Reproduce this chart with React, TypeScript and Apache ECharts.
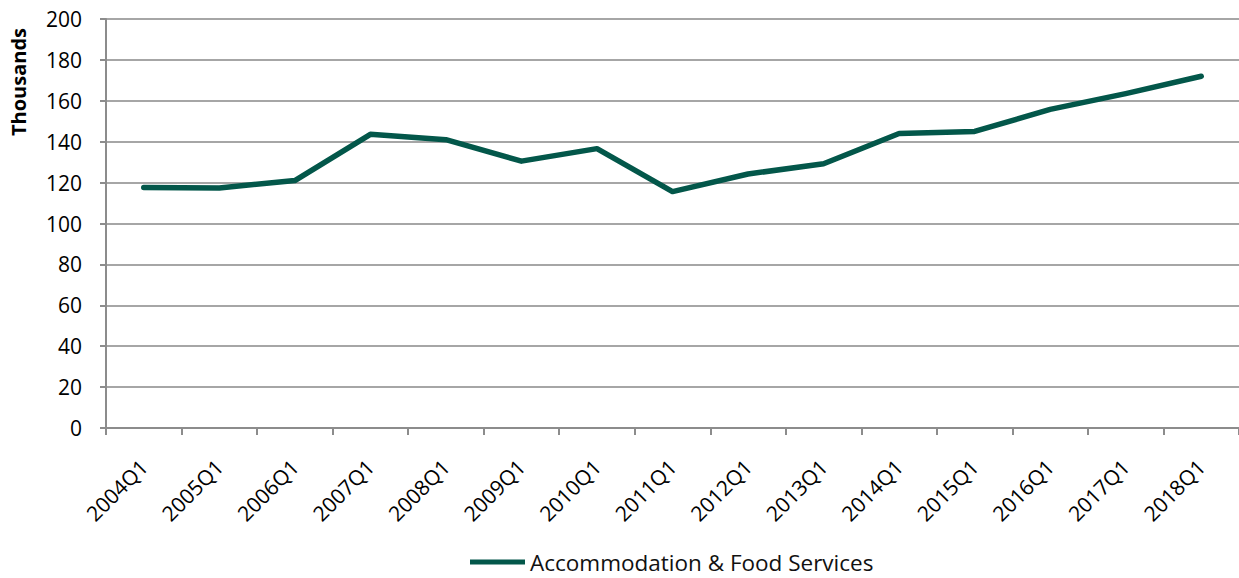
import React, { useEffect, useRef } from "react";
import * as echarts from "echarts";

const categories = ["2004Q1","2005Q1","2006Q1","2007Q1","2008Q1","2009Q1","2010Q1","2011Q1","2012Q1","2013Q1","2014Q1","2015Q1","2016Q1","2017Q1","2018Q1"];
const values = [117.6, 117.4, 121.0, 143.6, 141.0, 130.5, 136.6, 115.6, 124.2, 129.2, 144.0, 145.0, 155.8, 163.5, 172.0];
const seriesName = "Accommodation & Food Services";
const yAxisTitle = "Thousands";

const FONT = "Open Sans";

export default function App() {
  const ref = useRef<HTMLDivElement>(null);
  useEffect(() => {
    if (!ref.current) return;
    const chart = echarts.init(ref.current, undefined, { renderer: "svg" });
    chart.setOption({
      animation: false,
      textStyle: { fontFamily: FONT },
      grid: { left: 106, right: 0, top: 19, bottom: 150, containLabel: false },
      legend: {
        data: [seriesName],
        left: 470,
        top: 550,
        padding: 0,
        itemWidth: 55,
        itemHeight: 5,
        itemGap: 5,
        icon: "rect",
        textStyle: { fontFamily: FONT, fontSize: 22.5, lineHeight: 24, color: "#111" },
      },
      graphic: [
        {
          type: "text",
          x: 18,
          y: 82,
          rotation: Math.PI / 2,
          style: {
            text: yAxisTitle,
            font: `bold 20px "${FONT}"`,
            fill: "#000",
            align: "center",
            verticalAlign: "middle",
          },
        },
      ],
      xAxis: {
        type: "category",
        data: categories,
        boundaryGap: true,
        axisLine: { lineStyle: { color: "#8c8c8c", width: 2 } },
        axisTick: { show: true, alignWithLabel: false, length: 7, lineStyle: { color: "#8c8c8c", width: 2 } },
        axisLabel: {
          rotate: 45,
          interval: 0,
          margin: 35,
          fontFamily: FONT,
          fontSize: 21,
          color: "#000",
        },
        splitLine: { show: false },
      },
      yAxis: {
        type: "value",
        min: 0,
        max: 200,
        interval: 20,
        axisLine: { show: true, lineStyle: { color: "#8c8c8c", width: 2 } },
        axisTick: { show: true, length: 6, lineStyle: { color: "#8c8c8c", width: 2 } },
        axisLabel: { fontFamily: FONT, fontSize: 21, color: "#000", margin: 24 },
        splitLine: { show: true, lineStyle: { color: "#a6a6a6", width: 2 } },
      },
      series: [
        {
          name: seriesName,
          type: "line",
          data: values,
          symbol: "none",
          lineStyle: { color: "#03574a", width: 5.5, cap: "round", join: "round" },
          itemStyle: { color: "#03574a" },
        },
      ],
    });
    return () => chart.dispose();
  }, []);
  return (
    <div
      ref={ref}
      style={{ position: "fixed", left: 0, top: 0, width: 1239, height: 578, background: "#fff" }}
    />
  );
}
